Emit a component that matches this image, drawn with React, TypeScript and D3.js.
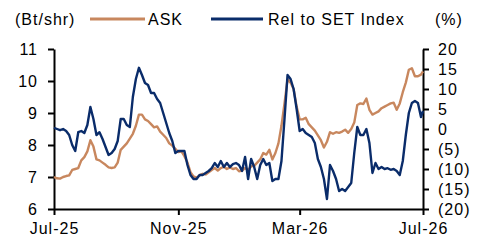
import React, { useEffect, useRef } from 'react'
import { select, scaleTime, scaleLinear, line, axisLeft, axisRight, axisBottom, timeParse, timeFormat } from 'd3'

const dates = [
  '2025-07-01', '2025-07-04', '2025-07-07', '2025-07-10', '2025-07-13', '2025-07-16', '2025-07-19', '2025-07-22', '2025-07-25', '2025-07-28', '2025-07-31',
  '2025-08-03', '2025-08-06', '2025-08-09', '2025-08-12', '2025-08-15', '2025-08-18', '2025-08-21', '2025-08-24', '2025-08-27', '2025-08-30',
  '2025-09-02', '2025-09-05', '2025-09-08', '2025-09-11', '2025-09-14', '2025-09-17', '2025-09-20', '2025-09-23', '2025-09-26', '2025-09-29',
  '2025-10-02', '2025-10-05', '2025-10-08', '2025-10-11', '2025-10-14', '2025-10-17', '2025-10-20', '2025-10-23', '2025-10-26', '2025-10-29',
  '2025-11-01', '2025-11-04', '2025-11-07', '2025-11-10', '2025-11-13', '2025-11-16', '2025-11-19', '2025-11-22', '2025-11-25', '2025-11-28',
  '2025-12-01', '2025-12-04', '2025-12-07', '2025-12-10', '2025-12-13', '2025-12-16', '2025-12-19', '2025-12-22', '2025-12-25', '2025-12-28', '2025-12-31',
  '2026-01-03', '2026-01-06', '2026-01-09', '2026-01-12', '2026-01-15', '2026-01-18', '2026-01-21', '2026-01-24', '2026-01-27', '2026-01-30',
  '2026-02-02', '2026-02-05', '2026-02-08', '2026-02-11', '2026-02-14', '2026-02-17', '2026-02-20', '2026-02-23', '2026-02-26',
  '2026-03-01', '2026-03-04', '2026-03-07', '2026-03-10', '2026-03-13', '2026-03-16', '2026-03-19', '2026-03-22', '2026-03-25', '2026-03-28', '2026-03-31',
  '2026-04-03', '2026-04-06', '2026-04-09', '2026-04-12', '2026-04-15', '2026-04-18', '2026-04-21', '2026-04-24', '2026-04-27', '2026-04-30',
  '2026-05-03', '2026-05-06', '2026-05-09', '2026-05-12', '2026-05-15', '2026-05-18', '2026-05-21', '2026-05-24', '2026-05-27', '2026-05-30',
  '2026-06-02', '2026-06-05', '2026-06-08', '2026-06-11', '2026-06-14', '2026-06-17', '2026-06-20', '2026-06-23', '2026-06-26', '2026-06-29',
  '2026-07-01'
]

// ASK share price (Bt/shr), left axis
const askPrice = [
  7.00, 6.96, 6.95, 7.00, 7.03, 7.05, 7.22, 7.25, 7.28, 7.52, 7.62,
  7.80, 8.15, 7.95, 7.55, 7.52, 7.45, 7.38, 7.30, 7.28, 7.30,
  7.45, 7.85, 7.95, 8.05, 8.20, 8.35, 8.60, 8.95, 8.95, 8.80,
  8.75, 8.65, 8.55, 8.58, 8.42, 8.32, 8.22, 8.05, 7.98, 7.88,
  7.78, 7.80, 7.65, 7.45, 7.15, 7.02, 6.98, 7.05, 7.10, 7.08,
  7.15, 7.22, 7.28, 7.20, 7.28, 7.32, 7.25, 7.30, 7.25, 7.28, 7.18,
  7.20, 7.28, 7.22, 7.33, 7.35, 7.45, 7.55, 7.75, 7.70, 7.85,
  7.55, 7.75, 8.05, 8.60, 9.30, 10.05, 9.95, 9.75, 9.20,
  8.80, 8.80, 8.85, 8.65, 8.55, 8.45, 8.30, 8.15, 7.92, 8.10, 8.40,
  8.35, 8.40, 8.38, 8.42, 8.48, 8.38, 8.50, 8.70, 9.25, 9.30,
  9.28, 9.45, 9.10, 8.95, 9.00, 9.05, 9.15, 9.20, 9.25, 9.30,
  9.32, 9.10, 9.30, 9.65, 9.95, 10.35, 10.40, 10.15, 10.15, 10.20,
  10.30
]

// relative performance vs SET Index (%), right axis
const relSet = [
  0.3, 0, -0.3, 0, -0.5, -1.5, -4.0, -5.5, -0.8, -0.5, -1.0,
  1.0, 5.5, 2.5, -1.5, -0.8, -2.5, -4.5, -6.5, -6.0, -5.0,
  -3.0, 2.5, 2.5, 1.0, 0.5, 8.0, 12.5, 15.3, 13.5, 11.5,
  11.0, 9.0, 9.0, 7.5, 6.5, 4.0, 1.5, -1.0, -3.0, -6.0,
  -5.5, -5.5, -5.5, -9.0, -11.5, -12.5, -12.5, -11.5, -11.5, -11.0,
  -10.5, -9.8, -8.5, -9.5, -8.0, -9.5, -8.5, -9.5, -8.8, -8.5, -9.0,
  -10.5, -7.0, -12.5, -7.5, -9.5, -12.5, -9.0, -7.5, -9.0, -8.5,
  -13.0, -12.5, -12.5, -8.0, 2.5, 13.5, 12.5, 10.0, 5.0,
  -0.5, 0.0, -1.0, -1.5, -2.0, -3.5, -7.5, -9.5, -12.5, -17.5, -9.0,
  -10.5, -12.5, -15.5, -15.0, -15.5, -14.5, -13.5, -6.0, 0.5, -1.5,
  -1.5, 0.0, -3.5, -11.0, -8.5, -10.0, -9.5, -10.0, -9.8, -10.2,
  -10.0, -10.5, -11.5, -8.0, -1.5, 4.0, 6.5, 7.0, 6.5, 3.0,
  4.5
]

const xTicks = ['2025-07-01', '2025-11-01', '2026-03-01', '2026-07-01']
const leftTicks = [6, 7, 8, 9, 10, 11]
const rightTicks = [-20, -15, -10, -5, 0, 5, 10, 15, 20]

const ORANGE = '#C8875E'
const NAVY = '#0A2C6A'
const FONT = '"Liberation Sans", Arial, sans-serif'

export default function App() {
  const node = useRef<SVGSVGElement>(null)

  useEffect(() => {
    const svg = select(node.current)
    svg.selectAll('*').remove()

    const parse = timeParse('%Y-%m-%d')
    const x = scaleTime()
      .domain([parse(dates[0]), parse(dates[dates.length - 1])])
      .range([54, 423])
    const yL = scaleLinear().domain([6, 11]).range([209, 49])
    const yR = scaleLinear().domain([-20, 20]).range([209, 49])

    const styleAxis = (g) => {
      g.select('.domain').attr('stroke', '#000').attr('stroke-width', 2)
      g.selectAll('.tick line').attr('stroke', '#000').attr('stroke-width', 2)
      g.selectAll('.tick text')
        .attr('fill', '#000')
        .style('font-family', FONT)
        .style('font-size', '16px')
        .style('letter-spacing', '1px')
    }

    svg.append('g')
      .attr('transform', 'translate(54,0)')
      .call(axisLeft(yL).tickValues(leftTicks).tickSize(6).tickSizeOuter(0).tickPadding(10)
        .tickFormat(d => `${d}`))
      .call(styleAxis)

    svg.append('g')
      .attr('transform', 'translate(423,0)')
      .call(axisRight(yR).tickValues(rightTicks).tickSize(6).tickSizeOuter(0).tickPadding(9)
        .tickFormat(d => (d < 0 ? `(${-d})` : `${d}`)))
      .call(styleAxis)

    svg.append('g')
      .attr('transform', 'translate(0,209)')
      .call(axisBottom(x).tickValues(xTicks.map(d => parse(d))).tickSize(6).tickSizeOuter(0).tickPadding(8)
        .tickFormat(timeFormat('%b-%y')))
      .call(styleAxis)

    const askLine = line()
      .x((d, i) => x(parse(dates[i])))
      .y(d => yL(d))
    const relLine = line()
      .x((d, i) => x(parse(dates[i])))
      .y(d => yR(d))

    svg.append('path')
      .datum(askPrice)
      .attr('d', askLine)
      .attr('fill', 'none')
      .attr('stroke', ORANGE)
      .attr('stroke-width', 2.4)
      .attr('stroke-linejoin', 'round')

    svg.append('path')
      .datum(relSet)
      .attr('d', relLine)
      .attr('fill', 'none')
      .attr('stroke', NAVY)
      .attr('stroke-width', 2.4)
      .attr('stroke-linejoin', 'round')

    // legend and unit labels
    const txt = (t, tx, ty) => svg.append('text')
      .attr('x', tx).attr('y', ty)
      .style('font-family', FONT).style('font-size', '16px').style('letter-spacing', '1px')
      .attr('fill', '#000')
      .text(t)

    txt('(Bt/shr)', 15, 25)
    svg.append('line').attr('x1', 90).attr('x2', 145).attr('y1', 19).attr('y2', 19)
      .attr('stroke', ORANGE).attr('stroke-width', 3)
    txt('ASK', 148, 25)
    svg.append('line').attr('x1', 211).attr('x2', 263).attr('y1', 19).attr('y2', 19)
      .attr('stroke', NAVY).attr('stroke-width', 3)
    txt('Rel to SET Index', 268, 25)
    txt('(%)', 435, 25)
  }, [])

  return (
    <svg ref={node} width={484} height={240}
      style={{ position: 'absolute', left: 0, top: 0, background: '#fff' }} />
  )
}
